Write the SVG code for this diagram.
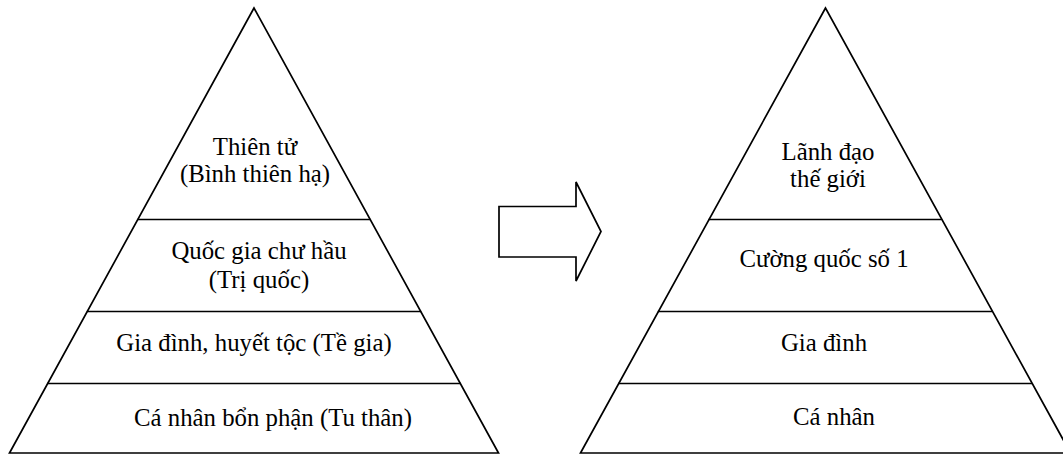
<svg xmlns="http://www.w3.org/2000/svg" width="1063" height="455" viewBox="0 0 1063 455">
<style>
.shape{fill:#fff;stroke:#000;stroke-width:1.7;stroke-linejoin:miter}
.div{stroke:#000;stroke-width:1.7;fill:none}
.t{font-family:"Liberation Serif","Times New Roman",serif;font-size:24.8px;fill:#000;text-anchor:middle}
</style>
<rect width="1063" height="455" fill="#fff"/>
<g id="pyramid-left">
<polygon class="shape" points="254,8 9.5,453 498.5,453"/>
<line class="div" x1="137.5" y1="219.5" x2="370.5" y2="219.5"/>
<line class="div" x1="86.8" y1="311.5" x2="421.2" y2="311.5"/>
<line class="div" x1="47.1" y1="383.5" x2="460.9" y2="383.5"/>
<text class="t" x="255" y="154.5">Thiên tử</text>
<text class="t" x="255" y="182">(Bình thiên hạ)</text>
<text class="t" x="259" y="258.5">Quốc gia chư hầu</text>
<text class="t" x="259" y="287.5">(Trị quốc)</text>
<text class="t" x="254" y="351">Gia đình, huyết tộc (Tề gia)</text>
<text class="t" x="273" y="425.5">Cá nhân bổn phận (Tu thân)</text>
</g>
<g id="pyramid-right">
<polygon class="shape" points="825.5,8 580.5,453 1070.5,453"/>
<line class="div" x1="708.5" y1="219.5" x2="941.5" y2="219.5"/>
<line class="div" x1="657.8" y1="311.5" x2="992.2" y2="311.5"/>
<line class="div" x1="618" y1="383.5" x2="1032" y2="383.5"/>
<text class="t" x="828" y="160">Lãnh đạo</text>
<text class="t" x="828" y="187">thế giới</text>
<text class="t" x="824" y="267">Cường quốc số 1</text>
<text class="t" x="824" y="350.5">Gia đình</text>
<text class="t" x="834" y="424.5">Cá nhân</text>
</g>
<g id="connectors">
<polygon class="shape" points="499,206.5 576,206.5 576,182 601,231.5 576,281 576,257 499,257"/>
</g>
</svg>
